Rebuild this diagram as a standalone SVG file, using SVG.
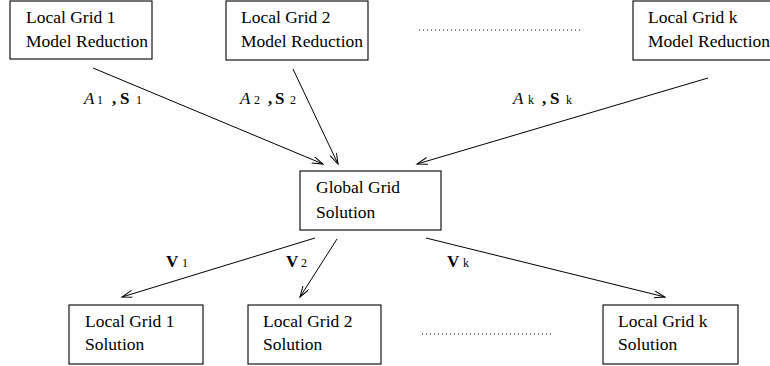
<svg xmlns="http://www.w3.org/2000/svg" width="770" height="366" viewBox="0 0 770 366" font-family="'Liberation Serif', 'Times New Roman', serif">
  <style>
    .box { fill: #fff; stroke: #000; stroke-width: 1.1; }
    .t { font-family: "Liberation Serif", "Times New Roman", serif; font-size: 17.5px; fill: #000; }
    .lab { font-family: "Liberation Serif", "Times New Roman", serif; font-size: 17px; fill: #000; }
    .it { font-style: italic; }
    .b { font-weight: bold; }
    .sub { font-size: 12px; font-weight: normal; }
    .edge { fill: none; stroke: #000; stroke-width: 1; marker-end: url(#arrow); }
    .dots { fill: none; stroke: #000; stroke-width: 1; stroke-dasharray: 1 3; }
  </style>
  <defs>
    <marker id="arrow" markerUnits="userSpaceOnUse" markerWidth="14" markerHeight="10" refX="11" refY="3.5" orient="auto">
      <path d="M0,0 L11,3.5 L0,7" fill="none" stroke="#000" stroke-width="1"/>
    </marker>
  </defs>

  <rect width="770" height="366" fill="#fff"/>

  <!-- upper row: local model reductions -->
  <g id="local1-reduction">
    <rect class="box" x="10" y="1" width="142" height="58"/>
    <text class="t" x="26" y="23">Local Grid 1</text>
    <text class="t" x="26" y="47">Model Reduction</text>
  </g>
  <g id="local2-reduction">
    <rect class="box" x="226" y="1" width="142" height="59"/>
    <text class="t" x="241" y="23">Local Grid 2</text>
    <text class="t" x="241" y="47">Model Reduction</text>
  </g>
  <g id="localk-reduction">
    <rect class="box" x="633" y="1" width="150" height="59"/>
    <text class="t" x="648" y="23">Local Grid k</text>
    <text class="t" x="648" y="47">Model Reduction</text>
  </g>

  <!-- central node -->
  <g id="global-solution">
    <rect class="box" x="300" y="171" width="141" height="59"/>
    <text class="t" x="316" y="193">Global Grid</text>
    <text class="t" x="316" y="218">Solution</text>
  </g>

  <!-- lower row: local solutions -->
  <g id="local1-solution">
    <rect class="box" x="69" y="305" width="134" height="59"/>
    <text class="t" x="85" y="327">Local Grid 1</text>
    <text class="t" x="85" y="350">Solution</text>
  </g>
  <g id="local2-solution">
    <rect class="box" x="248" y="305" width="133" height="59"/>
    <text class="t" x="263" y="327">Local Grid 2</text>
    <text class="t" x="263" y="350">Solution</text>
  </g>
  <g id="localk-solution">
    <rect class="box" x="603" y="305" width="135" height="59"/>
    <text class="t" x="618" y="327">Local Grid k</text>
    <text class="t" x="618" y="350">Solution</text>
  </g>

  <!-- ellipses between repeated nodes -->
  <g id="ellipses">
    <line class="dots" x1="419" y1="30" x2="583" y2="30"/>
    <line class="dots" x1="422" y1="334" x2="553" y2="334"/>
  </g>

  <!-- connectors -->
  <g id="connectors">
    <line class="edge" x1="93" y1="68" x2="323" y2="164"/>
    <line class="edge" x1="293" y1="69" x2="338" y2="164"/>
    <line class="edge" x1="708" y1="78" x2="417" y2="164"/>
    <line class="edge" x1="315" y1="238" x2="122" y2="297"/>
    <line class="edge" x1="337" y1="239" x2="300" y2="297"/>
    <line class="edge" x1="426" y1="238" x2="665" y2="297"/>

    <text class="lab" y="104"><tspan class="it" x="84">A</tspan><tspan class="sub" x="97">1</tspan><tspan class="b" x="112">,</tspan><tspan class="b" x="120">S</tspan><tspan class="sub" x="136">1</tspan></text>
    <text class="lab" y="104"><tspan class="it" x="240">A</tspan><tspan class="sub" x="254">2</tspan><tspan class="b" x="268">,</tspan><tspan class="b" x="275">S</tspan><tspan class="sub" x="290">2</tspan></text>
    <text class="lab" y="104"><tspan class="it" x="513">A</tspan><tspan class="sub" x="528">k</tspan><tspan class="b" x="542">,</tspan><tspan class="b" x="550">S</tspan><tspan class="sub" x="566">k</tspan></text>

    <text class="lab" y="267"><tspan class="b" x="166">V</tspan><tspan class="sub" x="182">1</tspan></text>
    <text class="lab" y="267"><tspan class="b" x="286">V</tspan><tspan class="sub" x="301">2</tspan></text>
    <text class="lab" y="267"><tspan class="b" x="447">V</tspan><tspan class="sub" x="463">k</tspan></text>
  </g>
</svg>
